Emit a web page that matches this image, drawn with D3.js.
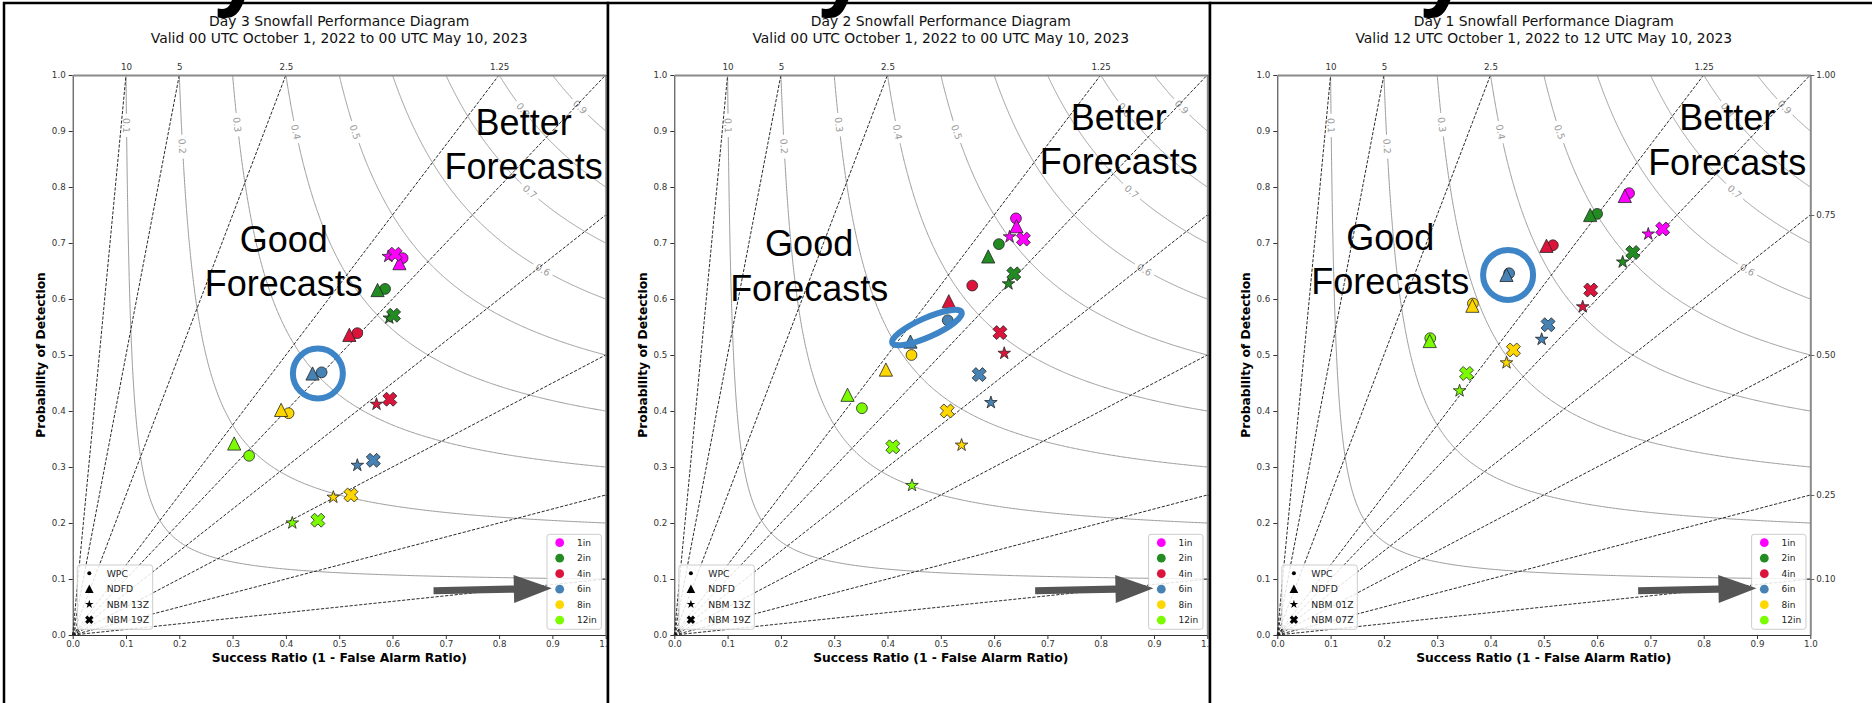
<!DOCTYPE html>
<html>
<head>
<meta charset="utf-8">
<script src="https://cdn.jsdelivr.net/npm/d3@7"></script>
<style>
body { margin: 0; background: #fff; }
svg { display: block; font-family: "DejaVu Sans", sans-serif; }
</style>
</head>
<body>
<svg width="1872" height="703"></svg>
<script>
// thresholds and their colours
var thresholds = ["1in", "2in", "4in", "6in", "8in", "12in"];
var thresholdColors = ["#ff00ff", "#228b22", "#dc143c", "#4682b4", "#ffd700", "#7cfc00"];

// background of the performance diagram
var csiLevels = [0.1, 0.2, 0.3, 0.4, 0.5, 0.6, 0.7, 0.8, 0.9];
var csiLabelSR = [0.101, 0.206, 0.309, 0.419, 0.53, 0.882, 0.858, 0.845, 0.952];
var biasLevels = [0.1, 0.25, 0.5, 0.75, 1, 1.25, 2.5, 5, 10];
var topBiasTicks = [10, 5, 2.5, 1.25];
var rightBiasTicks = [1, 0.75, 0.5, 0.25, 0.1];
var axisTicks = [0, 0.1, 0.2, 0.3, 0.4, 0.5, 0.6, 0.7, 0.8, 0.9, 1.0];

// rows: WPC, NDFD, NBM a, NBM b ; columns follow thresholds
var day3Products = ["WPC", "NDFD", "NBM 13Z", "NBM 19Z"];
var day3SR = [
  [0.619, 0.586, 0.534, 0.467, 0.405, 0.331],
  [0.613, 0.572, 0.519, 0.450, 0.391, 0.303],
  [0.592, 0.594, 0.570, 0.534, 0.489, 0.412],
  [0.605, 0.602, 0.595, 0.564, 0.522, 0.460]
];
var day3POD = [
  [0.673, 0.618, 0.539, 0.469, 0.396, 0.320],
  [0.664, 0.616, 0.536, 0.467, 0.402, 0.342],
  [0.676, 0.566, 0.412, 0.303, 0.246, 0.200],
  [0.680, 0.571, 0.421, 0.312, 0.250, 0.205]
];

var day2Products = ["WPC", "NDFD", "NBM 13Z", "NBM 19Z"];
var day2SR = [
  [0.641, 0.609, 0.559, 0.513, 0.445, 0.352],
  [0.642, 0.589, 0.515, 0.443, 0.397, 0.325],
  [0.629, 0.627, 0.619, 0.594, 0.539, 0.446],
  [0.655, 0.637, 0.611, 0.572, 0.512, 0.410]
];
var day2POD = [
  [0.744, 0.698, 0.624, 0.562, 0.500, 0.405],
  [0.730, 0.676, 0.596, 0.524, 0.474, 0.429],
  [0.711, 0.627, 0.503, 0.415, 0.339, 0.267],
  [0.707, 0.645, 0.540, 0.465, 0.400, 0.336]
];

var day1Products = ["WPC", "NDFD", "NBM 01Z", "NBM 07Z"];
var day1SR = [
  [0.660, 0.600, 0.517, 0.435, 0.367, 0.287],
  [0.652, 0.587, 0.505, 0.430, 0.366, 0.286],
  [0.696, 0.648, 0.573, 0.496, 0.430, 0.342],
  [0.723, 0.667, 0.588, 0.508, 0.443, 0.355]
];
var day1POD = [
  [0.789, 0.752, 0.696, 0.646, 0.592, 0.530],
  [0.784, 0.750, 0.695, 0.643, 0.588, 0.525],
  [0.716, 0.666, 0.586, 0.528, 0.486, 0.436],
  [0.725, 0.683, 0.616, 0.554, 0.509, 0.467]
];

var svg = d3.select("svg");
var plotWidth = 533, plotTop = 75, plotBottom = 635;

var panels = [
  {left: 4, width: 604, plotLeft: 72.7, day: "Day 3",
   title: "Day 3 Snowfall Performance Diagram",
   valid: "Valid 00 UTC October 1, 2022 to 00 UTC May 10, 2023",
   products: day3Products, sr: day3SR, pod: day3POD,
   good: [0.396, 0.684], better: [0.846, 0.893],
   mark: {sr: 0.460, pod: 0.467, rx: 25, ry: 25, angle: 0}},
  {left: 608, width: 602, plotLeft: 674.3, day: "Day 2",
   title: "Day 2 Snowfall Performance Diagram",
   valid: "Valid 00 UTC October 1, 2022 to 00 UTC May 10, 2023",
   products: day2Products, sr: day2SR, pod: day2POD,
   good: [0.253, 0.676], better: [0.834, 0.902],
   mark: {sr: 0.474, pod: 0.549, rx: 38, ry: 9.5, angle: -24}},
  {left: 1210, width: 700, plotLeft: 1277.3, day: "Day 1",
   title: "Day 1 Snowfall Performance Diagram",
   valid: "Valid 12 UTC October 1, 2022 to 12 UTC May 10, 2023",
   products: day1Products, sr: day1SR, pod: day1POD,
   good: [0.212, 0.688], better: [0.844, 0.901],
   mark: {sr: 0.433, pod: 0.643, rx: 25, ry: 25, angle: 0}}
];

var csiPod = function (c, sr) {
  return 1 / (1 / c + 1 - 1 / sr);
};

var csiCurve = function (c) {
  var pts = [];
  for (var i = 0; i <= 300; i++) {
    var s = c + (1 - c) * i / 300;
    pts.push([s, csiPod(c, s)]);
    pts.push([csiPod(c, s), s]);
  }
  pts.sort(function (a, b) { return a[0] - b[0]; });
  return pts;
};

// marker shapes, size = half extent in px
var triangleShape = {
  draw: function (ctx, h) {
    ctx.moveTo(0, -h); ctx.lineTo(h, h); ctx.lineTo(-h, h); ctx.closePath();
  }
};
var xShape = {
  draw: function (ctx, h) {
    var L = h * Math.SQRT2 / 1.36, w = L * 0.36;
    var p = [[-w, -L], [w, -L], [w, -w], [L, -w], [L, w], [w, w], [w, L], [-w, L], [-w, w], [-L, w], [-L, -w], [-w, -w]];
    p.forEach(function (q, i) {
      var a = Math.PI / 4;
      var x = q[0] * Math.cos(a) - q[1] * Math.sin(a), y = q[0] * Math.sin(a) + q[1] * Math.cos(a);
      if (i === 0) ctx.moveTo(x, y); else ctx.lineTo(x, y);
    });
    ctx.closePath();
  }
};
var circleShape = {
  draw: function (ctx, r) { ctx.moveTo(r, 0); ctx.arc(0, 0, r, 0, 2 * Math.PI); }
};
var starShape = {
  draw: function (ctx, R) {
    var r = R * 0.382;
    for (var i = 0; i < 10; i++) {
      var a = -Math.PI / 2 + i * Math.PI / 5, rr = i % 2 ? r : R;
      if (i === 0) ctx.moveTo(rr * Math.cos(a), rr * Math.sin(a));
      else ctx.lineTo(rr * Math.cos(a), rr * Math.sin(a));
    }
    ctx.closePath();
  }
};
var productShapes = [circleShape, triangleShape, starShape, xShape];
var productSizes = [5.4, 6.6, 6.6, 7];
var legendSizes = [2, 4.3, 4.6, 4.2];

function drawPanel(p) {
  var g = svg.append("g");
  var x = d3.scaleLinear().domain([0, 1]).range([p.plotLeft, p.plotLeft + plotWidth]);
  var y = d3.scaleLinear().domain([0, 1]).range([plotBottom, plotTop]);

  g.append("rect")
    .attr("x", p.left).attr("y", 3)
    .attr("width", p.width).attr("height", 760)
    .attr("fill", "#fff").attr("stroke", "#000").attr("stroke-width", 2.5);

  g.append("text")
    .attr("x", x(0.5)).attr("y", 25.5)
    .attr("text-anchor", "middle").attr("font-size", 13.9).attr("fill", "#111")
    .text(p.title);
  g.append("text")
    .attr("x", x(0.5)).attr("y", 43)
    .attr("text-anchor", "middle").attr("font-size", 13.9).attr("fill", "#111")
    .text(p.valid);

  // csi contours with gaps for labels
  csiLevels.forEach(function (c, i) {
    var ls = csiLabelSR[i], lp = csiPod(c, ls);
    var lx = x(ls), ly = y(lp);
    var h = 0.004;
    var dx = x(ls + h) - x(ls - h), dy = y(csiPod(c, ls + h)) - y(csiPod(c, ls - h));
    var ang = Math.atan2(dy, dx) * 180 / Math.PI;
    var line = d3.line()
      .defined(function (d) {
        return Math.hypot(x(d[0]) - lx, y(d[1]) - ly) > 11;
      })
      .x(function (d) { return x(d[0]); })
      .y(function (d) { return y(d[1]); });
    g.append("path")
      .datum(csiCurve(c))
      .attr("d", line)
      .attr("fill", "none").attr("stroke", "#999").attr("stroke-width", 1);
    g.append("text")
      .attr("transform", "translate(" + lx + "," + ly + ") rotate(" + ang + ")")
      .attr("text-anchor", "middle").attr("dominant-baseline", "central")
      .attr("font-size", 9.5).attr("fill", "#999")
      .text(c);
  });

  // frequency bias lines
  g.append("g")
    .selectAll("line")
    .data(biasLevels)
    .enter()
    .append("line")
    .attr("x1", x(0)).attr("y1", y(0))
    .attr("x2", function (d) { return d >= 1 ? x(1 / d) : x(1); })
    .attr("y2", function (d) { return d >= 1 ? y(1) : y(d); })
    .attr("stroke", "#111").attr("stroke-width", 0.9)
    .attr("stroke-dasharray", "3.2,1.6");

  // axes
  var left = g.append("g")
    .attr("transform", "translate(" + x(0) + ",0)")
    .call(d3.axisLeft(y).tickValues(axisTicks).tickFormat(d3.format(".1f")).tickSize(4).tickPadding(3).tickSizeOuter(0));
  var bottom = g.append("g")
    .attr("transform", "translate(0," + y(0) + ")")
    .call(d3.axisBottom(x).tickValues(axisTicks).tickFormat(d3.format(".1f")).tickSize(4).tickPadding(2).tickSizeOuter(0));
  var top = g.append("g")
    .attr("transform", "translate(0," + y(1) + ")")
    .call(d3.axisTop(x).tickValues(topBiasTicks.map(function (b) { return 1 / b; }))
      .tickFormat(function (d) { return String(Math.round(100 / d) / 100); }).tickSize(0).tickPadding(5).tickSizeOuter(0));
  var right = g.append("g")
    .attr("transform", "translate(" + x(1) + ",0)")
    .call(d3.axisRight(y).tickValues(rightBiasTicks).tickFormat(d3.format(".2f")).tickSize(4).tickPadding(2).tickSizeOuter(0));
  [left, bottom, top, right].forEach(function (a) {
    a.selectAll("text").attr("font-size", 8.7).attr("fill", "#333").attr("font-family", "DejaVu Sans");
    a.selectAll(".tick line").attr("stroke", "#333");
  });
  left.select(".domain").attr("stroke", "#333");
  bottom.select(".domain").attr("stroke", "#333");
  top.select(".domain").attr("stroke", "#8a8a8a").attr("stroke-width", 2);
  right.select(".domain").attr("stroke", "#8a8a8a").attr("stroke-width", 2);
  right.selectAll(".tick line").attr("stroke", "#666");

  g.append("text")
    .attr("transform", "translate(" + (p.plotLeft - 27.7) + "," + y(0.5) + ") rotate(-90)")
    .attr("text-anchor", "middle").attr("font-size", 12.3).attr("font-weight", "bold")
    .text("Probability of Detection");
  g.append("text")
    .attr("x", x(0.5)).attr("y", 662)
    .attr("text-anchor", "middle").attr("font-size", 12.3).attr("font-weight", "bold")
    .text("Success Ratio (1 - False Alarm Ratio)");

  // annotation text
  [["Good", "Forecasts", p.good], ["Better", "Forecasts", p.better]].forEach(function (t) {
    var txt = g.append("text")
      .attr("text-anchor", "middle").attr("font-size", 36)
      .attr("font-family", "Liberation Sans, Arial, sans-serif").attr("fill", "#000");
    txt.append("tspan").attr("x", x(t[2][0])).attr("y", y(t[2][1])).text(t[0]);
    txt.append("tspan").attr("x", x(t[2][0])).attr("y", y(t[2][1]) + 44.5).text(t[1]);
  });

  // data points
  p.products.forEach(function (prod, k) {
    var pts = thresholds.map(function (th, j) {
      return {sr: p.sr[k][j], pod: p.pod[k][j], color: thresholdColors[j]};
    });
    g.append("g")
      .selectAll("path")
      .data(pts)
      .enter()
      .append("path")
      .attr("transform", function (d) { return "translate(" + x(d.sr) + "," + y(d.pod) + ")"; })
      .attr("d", d3.symbol().type(productShapes[k]).size(productSizes[k]))
      .attr("fill", function (d) { return d.color; })
      .attr("stroke", "#222").attr("stroke-width", 0.8);
  });

  // highlight ring
  g.append("ellipse")
    .attr("transform", "translate(" + x(p.mark.sr) + "," + y(p.mark.pod) + ") rotate(" + p.mark.angle + ")")
    .attr("rx", p.mark.rx).attr("ry", p.mark.ry)
    .attr("fill", "none").attr("stroke", "#3d85c6").attr("stroke-width", 6);

  // product legend
  var lg = g.append("g").attr("transform", "translate(" + (p.plotLeft + 4.6) + ",565)");
  lg.append("rect")
    .attr("width", 75.4).attr("height", 64.3).attr("rx", 2.5)
    .attr("fill", "#fff").attr("fill-opacity", 0.85).attr("stroke", "#ccc");
  p.products.forEach(function (prod, k) {
    lg.append("path")
      .attr("transform", "translate(12," + (8.3 + k * 15.5) + ")")
      .attr("d", d3.symbol().type(productShapes[k]).size(legendSizes[k]))
      .attr("fill", "#000");
    lg.append("text")
      .attr("x", 29.4).attr("y", 8.3 + k * 15.5)
      .attr("dominant-baseline", "central").attr("font-size", 9.25).attr("fill", "#222")
      .text(prod);
  });

  // threshold legend
  var cg = g.append("g").attr("transform", "translate(" + (p.plotLeft + plotWidth - 58.7) + ",534.3)");
  cg.append("rect")
    .attr("width", 54.4).attr("height", 95).attr("rx", 2.5)
    .attr("fill", "#fff").attr("fill-opacity", 0.85).attr("stroke", "#ccc");
  thresholds.forEach(function (th, j) {
    cg.append("circle")
      .attr("cx", 12.7).attr("cy", 8.4 + j * 15.5).attr("r", 4.4)
      .attr("fill", thresholdColors[j]);
    cg.append("text")
      .attr("x", 30).attr("y", 8.4 + j * 15.5)
      .attr("dominant-baseline", "central").attr("font-size", 9).attr("fill", "#222")
      .text(th);
  });

  // arrow pointing at the 6in entry
  var tail = [x(0.677), y(0.079)], tip = [x(0.899), y(0.0834)];
  var ux = tip[0] - tail[0], uy = tip[1] - tail[1], len = Math.hypot(ux, uy);
  ux /= len; uy /= len;
  var nx = -uy, ny = ux;
  var bx = tip[0] - ux * 38, by = tip[1] - uy * 38;
  var arrowPts = [
    [tail[0] + nx * 3.6, tail[1] + ny * 3.6],
    [bx + nx * 3.6, by + ny * 3.6],
    [bx + nx * 14, by + ny * 14],
    tip,
    [bx - nx * 14, by - ny * 14],
    [bx - nx * 3.6, by - ny * 3.6],
    [tail[0] - nx * 3.6, tail[1] - ny * 3.6]
  ];
  g.append("path")
    .attr("d", "M" + arrowPts.join("L") + "Z")
    .attr("fill", "#555");

  // big heading of the slide, only its descender shows
  g.append("text")
    .attr("x", p.left + 94).attr("y", -1)
    .attr("font-size", 90).attr("font-weight", "bold")
    .attr("font-family", "Liberation Sans, Arial, sans-serif")
    .text(p.day);
}

panels.forEach(drawPanel);
</script>
</body>
</html>
